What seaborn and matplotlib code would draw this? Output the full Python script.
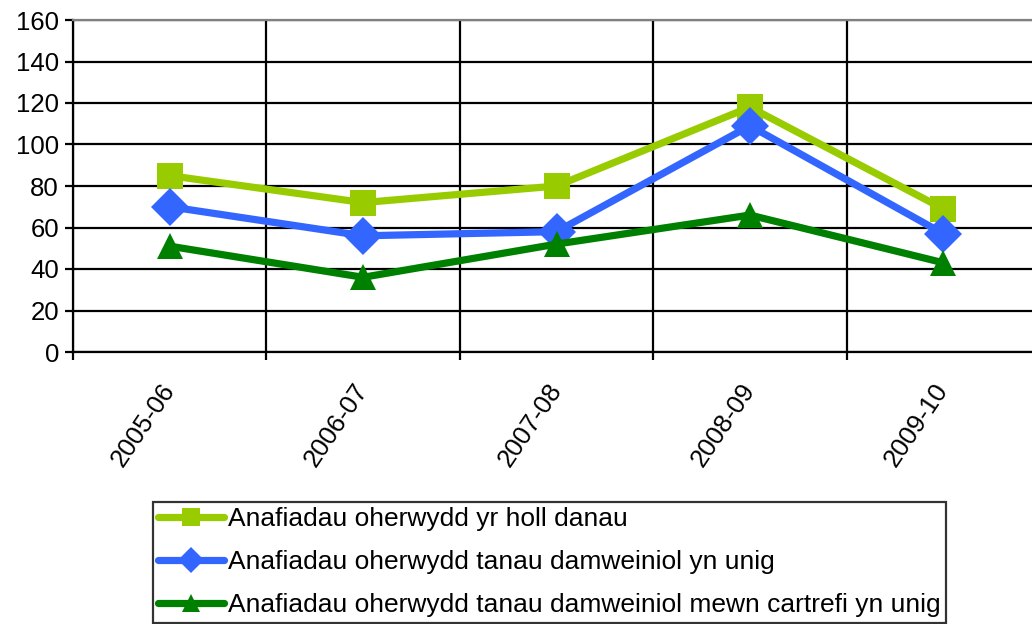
import pandas as pd
import matplotlib
matplotlib.use("Agg")
import matplotlib.pyplot as plt
import seaborn as sns

# Data
blynyddoedd = ["2005-06", "2006-07", "2007-08", "2008-09", "2009-10"]
holl_danau = [85, 72, 80, 118, 69]
damweiniol = [70, 56, 58, 109, 57]
damweiniol_cartrefi = [51, 36, 52, 66, 43]

enwau = [
    "Anafiadau oherwydd yr holl danau",
    "Anafiadau oherwydd tanau damweiniol yn unig",
    "Anafiadau oherwydd tanau damweiniol mewn cartrefi yn unig",
]
lliwiau = ["#99CC00", "#3366FF", "#008000"]
marcwyr = ["s", "D", "^"]

df = pd.DataFrame({
    "blwyddyn": blynyddoedd * 3,
    "gwerth": holl_danau + damweiniol + damweiniol_cartrefi,
    "cyfres": [enwau[0]] * 5 + [enwau[1]] * 5 + [enwau[2]] * 5,
})

sns.set_style("white")
plt.rcParams["font.family"] = ["Liberation Sans", "DejaVu Sans"]
plt.rcParams["text.color"] = "black"
plt.rcParams["xtick.color"] = "black"
plt.rcParams["ytick.color"] = "black"

fig = plt.figure(figsize=(10.32, 6.24), dpi=100)
ax = fig.add_axes([73 / 1032, 1 - 352 / 624, 967 / 1032, 332 / 624])

sns.lineplot(
    data=df, x="blwyddyn", y="gwerth", hue="cyfres", style="cyfres",
    palette=lliwiau, markers=marcwyr, dashes=False, linewidth=5.2,
    markersize=19, markeredgewidth=0, ax=ax, sort=False, legend=True,
)

ax.set_xlim(-0.5, 4.5)
ax.set_ylim(0, 160)
ax.set_yticks(range(0, 161, 20))
ax.set_xticks(range(5))
ax.set_xticks([i - 0.5 for i in range(6)], minor=True)
ax.set_xlabel("")
ax.set_ylabel("")

# gridlines
ax.grid(axis="y", which="major", color="black", linewidth=1.6)
ax.grid(axis="x", which="minor", color="black", linewidth=1.6)
ax.set_axisbelow(True)

for s in ["left", "bottom"]:
    ax.spines[s].set_color("black")
    ax.spines[s].set_linewidth(1.6)
ax.spines["top"].set_color("#808080")
ax.spines["top"].set_linewidth(1.6)
ax.spines["right"].set_visible(False)

ax.tick_params(axis="y", which="major", direction="out", length=6, width=1.6,
               color="black", labelsize=18.5, labelcolor="black", pad=4, left=True)
ax.tick_params(axis="x", which="major", length=0, labelsize=18.5,
               labelcolor="black", pad=24)
ax.tick_params(axis="x", which="minor", direction="out", length=6, width=1.6,
               color="black", bottom=True)
for lab in ax.get_xticklabels():
    lab.set_rotation(56)
    lab.set_ha("right")
    lab.set_va("center")
    lab.set_rotation_mode("anchor")

# legend
handles, labels = ax.get_legend_handles_labels()
ax.get_legend().remove()
for h in handles:
    h.set_markersize(13)
    h.set_linewidth(5.2)
leg = fig.legend(
    handles, labels, loc="upper left", bbox_to_anchor=(153 / 1032, 1 - 502 / 624),
    frameon=True, fancybox=False, edgecolor="black", fontsize=19,
    handlelength=2.5, handletextpad=0.15, borderpad=0.2, labelspacing=0.72,
    borderaxespad=0, labelcolor="black",
)
leg.get_frame().set_linewidth(1.6)

fig.savefig("out.png", dpi=100)
